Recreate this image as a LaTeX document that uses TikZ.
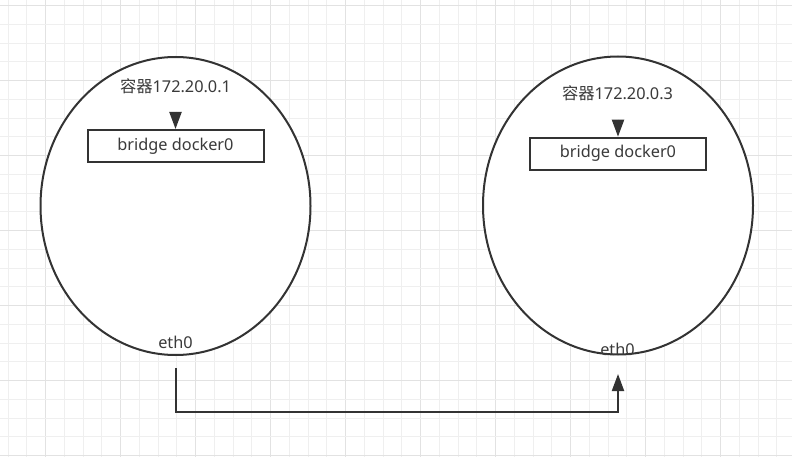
\documentclass[tikz,border=0pt]{standalone}
\usepackage{fontspec}
\setmainfont{Noto Sans}
\newfontfamily\cjkfont{Noto Sans CJK SC}
\usetikzlibrary{shapes.geometric,arrows.meta}
\definecolor{ink}{HTML}{333333}
\definecolor{txt}{HTML}{3A3A3A}
\definecolor{gridminor}{HTML}{EFEFEF}
\definecolor{gridmajor}{HTML}{E2E2E2}
\tikzset{
  container/.style={ellipse, draw=ink, line width=2pt, minimum width=270pt, minimum height=298pt, inner sep=0pt},
  bridgebox/.style={rectangle, draw=ink, line width=2pt, minimum width=176pt, minimum height=32pt, inner sep=0pt, font=\fontsize{16.3}{19}\selectfont, text=txt},
  lbl/.style={inner sep=0pt, font=\fontsize{16.3}{19}\selectfont, text=txt},
  conn/.style={draw=ink, line width=2pt, -{Triangle[width=12pt,length=17pt]}},
}
\begin{document}
\begin{tikzpicture}[x=1pt,y=-1pt]
\useasboundingbox (0,0) rectangle (792,457);
\fill[white] (0,0) rectangle (792,457);
% grid
\foreach \k in {0,...,41}{
  \pgfmathsetmacro{\xx}{8.2+18.75*\k}
  \pgfmathtruncatemacro{\mm}{mod(\k+2,4)}
  \ifnum\mm=0 \draw[gridmajor,line width=1pt] (\xx,0) -- (\xx,457);
  \else \draw[gridminor,line width=1pt] (\xx,0) -- (\xx,457); \fi
}
\foreach \k in {0,...,24}{
  \pgfmathsetmacro{\yy}{5.7+18.75*\k}
  \pgfmathtruncatemacro{\mm}{mod(\k,4)}
  \ifnum\mm=0 \draw[gridmajor,line width=1pt] (0,\yy) -- (792,\yy);
  \else \draw[gridminor,line width=1pt] (0,\yy) -- (792,\yy); \fi
}
% containers
\node[container, fill=white] (c1) at (175.5,206) {};
\node[container, fill=white] (c2) at (618,205.5) {};
% labels
\node[lbl] (t1) at (175.5,86) {{\cjkfont 容器}172.20.0.1};
\node[lbl] (t2) at (617.5,93.3) {{\cjkfont 容器}172.20.0.3};
\node[bridgebox] (b1) at (175.5,146) {bridge docker0};
\node[bridgebox] (b2) at (618,153.7) {bridge docker0};
\node[lbl] (e1) at (175.5,342.5) {eth0};
\node[lbl] (e2) at (617.5,349.5) {eth0};
% small arrows into the boxes
\coordinate (a1) at (175.5,112);
\coordinate (a2) at (618,119.7);
\draw[conn] (a1) -- (b1.north);
\draw[conn] (a2) -- (b2.north);
% eth0 link
\coordinate (s1) at (175.5,368);
\coordinate (m1) at (175.5,411.7);
\coordinate (s2) at (618,374);
\draw[conn] (s1) -- (m1) -| (s2);
\end{tikzpicture}
\end{document}
